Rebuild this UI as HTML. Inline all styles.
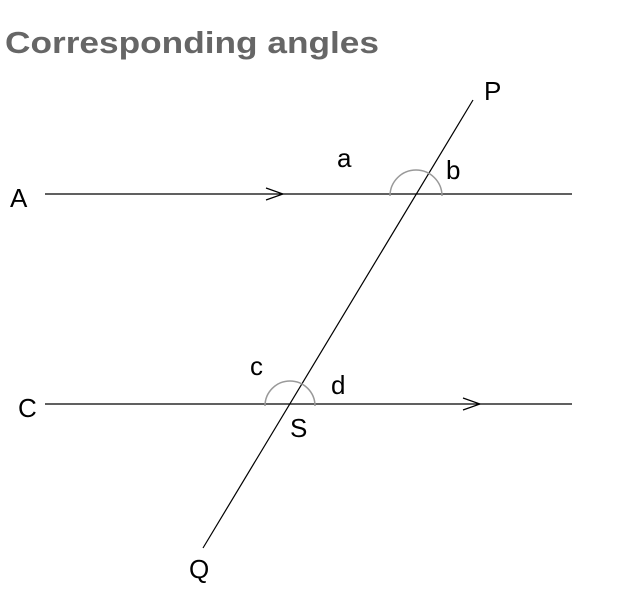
<!DOCTYPE html>
<html><head><style>html,body{margin:0;padding:0;background:#fff}svg{display:block}</style></head>
<body>
<svg width="621" height="591" viewBox="0 0 621 591" xmlns="http://www.w3.org/2000/svg">
<text x="5" y="53" font-family="Liberation Sans, sans-serif" font-weight="bold" font-size="31" fill="#666" textLength="374" lengthAdjust="spacingAndGlyphs">Corresponding angles</text>
<g stroke="#000" stroke-width="1.2" fill="none">
<line x1="45" y1="194" x2="572" y2="194"/>
<line x1="45" y1="404" x2="572" y2="404"/>
<line x1="473" y1="100" x2="203" y2="548"/>
<polyline points="266,188 283,194 266,200"/>
<polyline points="463,398 480,404 463,410"/>
</g>
<g stroke="#999" stroke-width="1.5" fill="none">
<path d="M390,196 A26,26 0 0 1 442,196"/>
<path d="M265,406 A25,25 0 0 1 315,406"/>
</g>
<g font-family="Liberation Sans, sans-serif" font-size="26" fill="#000">
<text x="10" y="207">A</text>
<text x="18" y="417">C</text>
<text x="484" y="100">P</text>
<text x="189" y="578">Q</text>
<text x="337" y="167">a</text>
<text x="446" y="179">b</text>
<text x="250" y="375">c</text>
<text x="331" y="394">d</text>
<text x="290" y="437">S</text>
</g>
</svg>
</body></html>
